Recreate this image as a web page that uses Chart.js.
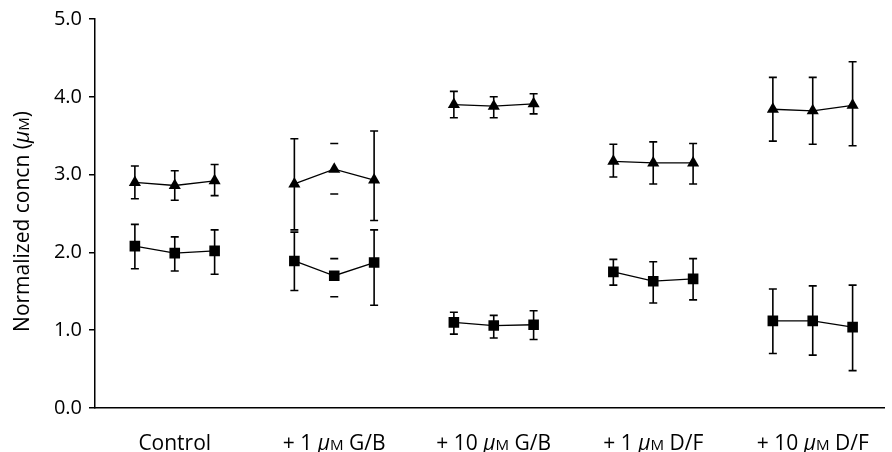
<!DOCTYPE html>
<html>
<head>
<meta charset="utf-8">
<script src="https://cdn.jsdelivr.net/npm/chart.js@4.4.1/dist/chart.umd.min.js"></script>
<style>
  html, body { margin: 0; padding: 0; background: #fff; }
  #wrap { width: 892px; height: 452px; }
</style>
</head>
<body>
<div id="wrap"><canvas id="grafico"></canvas></div>
<script>
const FONTE = "'Open Sans', 'Noto Sans', sans-serif";

const groupLabels = ["Control", "+ 1 μM G/B", "+ 10 μM G/B", "+ 1 μM D/F", "+ 10 μM D/F"];
const yTitle = "Normalized concn (μM)";
const yTicks = [0, 1, 2, 3, 4, 5];

// three measurements per group, x offset inside the group
const pointOffsets = [-0.25, 0, 0.25];

// triangles (upper series)
const triMean = [2.90, 2.86, 2.92,  2.88, 3.07, 2.93,  3.90, 3.88, 3.91,  3.17, 3.15, 3.15,  3.84, 3.82, 3.89];
const triHi   = [3.11, 3.05, 3.13,  3.46, 3.40, 3.56,  4.07, 4.00, 4.04,  3.39, 3.42, 3.40,  4.25, 4.25, 4.45];
const triLo   = [2.69, 2.67, 2.73,  2.29, 2.75, 2.41,  3.73, 3.73, 3.78,  2.97, 2.88, 2.88,  3.43, 3.39, 3.37];

// squares (lower series)
const sqMean = [2.08, 1.99, 2.02,  1.89, 1.70, 1.87,  1.10, 1.06, 1.07,  1.75, 1.63, 1.66,  1.12, 1.12, 1.04];
const sqHi   = [2.36, 2.20, 2.29,  2.26, 1.92, 2.29,  1.23, 1.19, 1.25,  1.91, 1.88, 1.92,  1.53, 1.57, 1.58];
const sqLo   = [1.79, 1.76, 1.72,  1.51, 1.43, 1.32,  0.95, 0.90, 0.88,  1.58, 1.35, 1.39,  0.70, 0.68, 0.48];

// in the original only the caps of these bars are printed
const capsOnly = [4];

function montarPontos(mean, hi, lo, g) {
  return pointOffsets.map((off, k) => {
    const i = g * 3 + k;
    return { x: g + 1 + off, y: mean[i], hi: hi[i], lo: lo[i], idx: i };
  });
}

const datasets = [];
groupLabels.forEach((_, g) => {
  datasets.push({
    data: montarPontos(triMean, triHi, triLo, g),
    pointStyle: "triangle",
    pointRadius: 7
  });
  datasets.push({
    data: montarPontos(sqMean, sqHi, sqLo, g),
    pointStyle: "rect",
    pointRadius: 7.5
  });
});
datasets.forEach((ds) => {
  ds.borderColor = "#000";
  ds.borderWidth = 1.3;
  ds.pointBackgroundColor = "#000";
  ds.pointBorderColor = "#000";
  ds.pointBorderWidth = 0;
  ds.fill = false;
  ds.tension = 0;
});

const errorBars = {
  id: "errorBars",
  beforeDatasetsDraw(chart) {
    const { ctx, scales: { x, y } } = chart;
    ctx.save();
    ctx.strokeStyle = "#000";
    ctx.lineWidth = 1.6;
    chart.data.datasets.forEach((ds) => {
      ds.data.forEach((p) => {
        const px = x.getPixelForValue(p.x);
        const top = y.getPixelForValue(p.hi);
        const bottom = y.getPixelForValue(p.lo);
        ctx.beginPath();
        if (!capsOnly.includes(p.idx)) {
          ctx.moveTo(px, top);
          ctx.lineTo(px, bottom);
        }
        ctx.moveTo(px - 4, top);
        ctx.lineTo(px + 4, top);
        ctx.moveTo(px - 4, bottom);
        ctx.lineTo(px + 4, bottom);
        ctx.stroke();
      });
    });
    ctx.restore();
  }
};

// text with an italic mu and a small-capital M
function partesTexto(texto) {
  const pos = texto.indexOf("μM");
  if (pos < 0) {
    return [{ t: texto, estilo: "", esc: 1 }];
  }
  return [
    { t: texto.slice(0, pos), estilo: "", esc: 1 },
    { t: "μ", estilo: "italic ", esc: 1 },
    { t: "M", estilo: "", esc: 0.72 },
    { t: texto.slice(pos + 2), estilo: "", esc: 1 }
  ];
}

function desenharTexto(ctx, texto, cx, cy, tamanho) {
  const partes = partesTexto(texto);
  let largura = 0;
  partes.forEach((p) => {
    ctx.font = `${p.estilo}${tamanho * p.esc}px ${FONTE}`;
    p.w = ctx.measureText(p.t).width;
    largura += p.w;
  });
  let x = cx - largura / 2;
  ctx.textBaseline = "alphabetic";
  ctx.textAlign = "left";
  partes.forEach((p) => {
    ctx.font = `${p.estilo}${tamanho * p.esc}px ${FONTE}`;
    ctx.fillText(p.t, x, cy);
    x += p.w;
  });
}

const rotulos = {
  id: "rotulos",
  afterDraw(chart) {
    const { ctx, scales: { x }, chartArea } = chart;
    ctx.save();
    ctx.fillStyle = "#000";
    groupLabels.forEach((label, g) => {
      desenharTexto(ctx, label, x.getPixelForValue(g + 1), chartArea.bottom + 42, 21);
    });
    ctx.translate(29, (chartArea.top + chartArea.bottom) / 2 + 8);
    ctx.rotate(-Math.PI / 2);
    desenharTexto(ctx, yTitle, 0, 0, 21);
    ctx.restore();
  }
};

new Chart(document.getElementById("grafico"), {
  type: "line",
  data: { datasets: datasets },
  plugins: [errorBars, rotulos],
  options: {
    responsive: true,
    maintainAspectRatio: false,
    animation: false,
    layout: { padding: { top: 15, right: 0, left: 0, bottom: 0 } },
    plugins: {
      legend: { display: false },
      tooltip: { enabled: false }
    },
    scales: {
      x: {
        type: "linear",
        min: 0.5,
        max: 5.45,
        ticks: { display: false },
        grid: { display: false },
        border: { display: true, color: "#000", width: 1.5 },
        afterFit(scale) { scale.height = 44; }
      },
      y: {
        min: 0,
        max: 5,
        afterBuildTicks(scale) { scale.ticks = yTicks.map((v) => ({ value: v })); },
        ticks: {
          color: "#000",
          padding: 7,
          font: { family: FONTE, size: 20 },
          callback: (v) => Number(v).toFixed(1)
        },
        grid: {
          display: true,
          drawOnChartArea: false,
          drawTicks: true,
          tickLength: 6,
          color: "#000",
          lineWidth: 1.5
        },
        border: { display: true, color: "#000", width: 1.5 },
        afterFit(scale) { scale.width = 95; }
      }
    }
  }
});
</script>
</body>
</html>
